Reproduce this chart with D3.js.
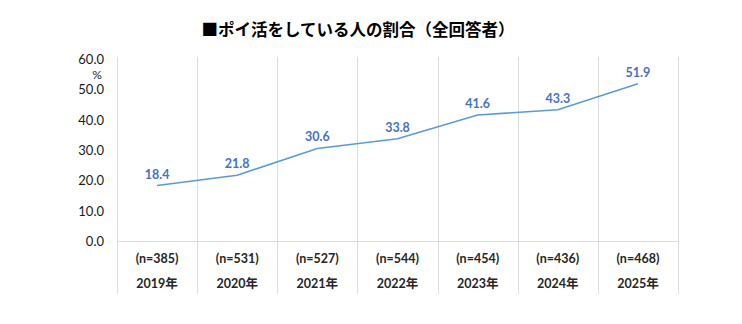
<!DOCTYPE html>
<html>
<head>
<meta charset="utf-8">
<script src="https://cdn.jsdelivr.net/npm/d3@7"></script>
<style>
  html, body { margin: 0; padding: 0; background: #fff; }
  svg { display: block; }
</style>
</head>
<body>
<svg id="chart" width="742" height="324"></svg>
<script>
// Share of respondents doing "poi-katsu" (points activities), by survey year
const years = ["2019年", "2020年", "2021年", "2022年", "2023年", "2024年", "2025年"];
const sampleSizes = ["(n=385)", "(n=531)", "(n=527)", "(n=544)", "(n=454)", "(n=436)", "(n=468)"];
const shares = [18.4, 21.8, 30.6, 33.8, 41.6, 43.3, 51.9];
const yTicks = [0, 10, 20, 30, 40, 50, 60];
const title = "■ポイ活をしている人の割合（全回答者）";

const svg = d3.select("#chart");
const margin = { left: 117, right: 64, top: 59, bottom: 83 };
const W = 742, H = 324;
const plotBottom = 241.5;

const x = d3.scaleBand().domain(years).range([margin.left, W - margin.right]);
const y = d3.scaleLinear().domain([0, 60]).range([plotBottom, margin.top]);

const numFont = "Lato, 'Noto Sans CJK JP', sans-serif";
const jpFont = "'Noto Sans CJK JP', sans-serif";

// Title
svg.append("text")
  .attr("x", 358).attr("y", 36)
  .attr("text-anchor", "middle")
  .style("font-family", jpFont)
  .style("font-weight", "bold")
  .style("font-size", "16.5px")
  .attr("fill", "#000")
  .text(title);

// Vertical category separators running through the label rows
const edges = years.map(d => x(d)).concat([x(years[years.length - 1]) + x.bandwidth()]);
svg.append("g").selectAll("line").data(edges).join("line")
  .attr("x1", d => Math.round(d) + 0.5).attr("x2", d => Math.round(d) + 0.5)
  .attr("y1", 57).attr("y2", 294)
  .attr("stroke", "#dcdcdc").attr("stroke-width", 1);

// Baseline at 0
svg.append("line")
  .attr("x1", margin.left).attr("x2", W - margin.right)
  .attr("y1", y(0)).attr("y2", y(0))
  .attr("stroke", "#dcdcdc").attr("stroke-width", 1);

// Y axis labels
const yAxis = d3.axisLeft(y).tickValues(yTicks).tickFormat(d3.format(".1f")).tickSize(0).tickPadding(0);
const gy = svg.append("g").attr("transform", `translate(${margin.left - 13},0)`).call(yAxis);
gy.select(".domain").remove();
gy.selectAll("text")
  .style("font-family", numFont)
  .style("font-size", "13px")
  .attr("fill", "#1a1a1a");

// Unit label
svg.append("text")
  .attr("x", 97).attr("y", 79)
  .attr("text-anchor", "middle")
  .style("font-family", numFont)
  .style("font-size", "12px")
  .attr("fill", "#1a1a1a")
  .text("%");

// Two-row category labels
const cats = svg.append("g");
cats.selectAll("text.n").data(years).join("text")
  .attr("class", "n")
  .attr("x", d => x(d) + x.bandwidth() / 2)
  .attr("y", 263)
  .attr("text-anchor", "middle")
  .style("font-family", numFont)
  .style("font-weight", "bold")
  .style("font-size", "12.5px")
  .attr("fill", "#262626")
  .text((d, i) => sampleSizes[i]);
cats.selectAll("text.yr").data(years).join("text")
  .attr("class", "yr")
  .attr("x", d => x(d) + x.bandwidth() / 2)
  .attr("y", 288)
  .attr("text-anchor", "middle")
  .style("font-family", numFont)
  .style("font-weight", "bold")
  .style("font-size", "12.5px")
  .attr("fill", "#262626")
  .text(d => d);

// Line
const data = years.map((d, i) => ({ year: d, v: shares[i] }));
const line = d3.line()
  .x(d => x(d.year) + x.bandwidth() / 2)
  .y(d => y(d.v));
svg.append("path")
  .datum(data)
  .attr("d", line)
  .attr("fill", "none")
  .attr("stroke", "#5b9bd5")
  .attr("stroke-width", 1.6)
  .attr("stroke-linejoin", "round");

// Value labels
svg.append("g").selectAll("text").data(data).join("text")
  .attr("x", d => x(d.year) + x.bandwidth() / 2)
  .attr("y", d => y(d.v) - 7)
  .attr("text-anchor", "middle")
  .style("font-family", numFont)
  .style("font-weight", "bold")
  .style("font-size", "12.5px")
  .attr("fill", "#4472c4")
  .text(d => d3.format(".1f")(d.v));
</script>
</body>
</html>
